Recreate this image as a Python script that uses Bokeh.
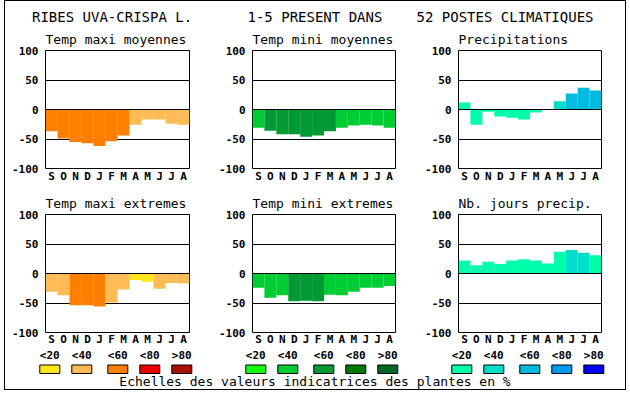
from bokeh.plotting import figure
from bokeh.models import Range1d, FixedTicker, Span, ColumnDataSource, Spacer
from bokeh.layouts import column, row
from bokeh.embed import file_html
from bokeh.resources import INLINE
from bokeh.core.properties import value

# ---------------- data ----------------
months = ["S", "O", "N", "D", "J", "F", "M", "A", "M", "J", "J", "A"]
class_labels = ["<20", "<40", "<60", "<80", ">80"]

main_title_parts = ["RIBES UVA-CRISPA L.", "1-5 PRESENT DANS", "52 POSTES CLIMATIQUES"]
footer_text = "Echelles des valeurs indicatrices des plantes en %"

titles = ["Temp maxi moyennes", "Temp mini moyennes", "Precipitations",
          "Temp maxi extremes", "Temp mini extremes", "Nb. jours precip."]

tmax_moy = [-37, -49, -55, -57, -62, -54, -44, -26, -17, -17, -24, -26]
tmax_moy_cls = [2, 2, 2, 2, 2, 2, 2, 1, 1, 1, 1, 1]

tmin_moy = [-31, -36, -42, -42, -46, -44, -37, -31, -27, -26, -27, -31]
tmin_moy_cls = [1, 2, 2, 2, 2, 2, 2, 1, 1, 1, 1, 1]

precip = [12, -26, -4, -12, -14, -17, -5, 0, 14, 27, 37, 32]
precip_cls = [0, 0, 0, 0, 0, 0, 0, 0, 1, 2, 2, 2]

tmax_ext = [-31, -37, -54, -54, -56, -49, -27, -11, -14, -26, -16, -17]
tmax_ext_cls = [1, 1, 2, 2, 2, 1, 1, 0, 0, 1, 1, 1]

tmin_ext = [-24, -41, -37, -47, -46, -47, -36, -37, -31, -24, -24, -21]
tmin_ext_cls = [1, 1, 1, 2, 2, 2, 1, 1, 1, 1, 1, 1]

nb_jours = [22, 14, 20, 16, 22, 24, 22, 17, 37, 40, 35, 31]
nb_jours_cls = [0, 0, 0, 0, 0, 0, 0, 0, 0, 1, 1, 0]

y_ticks = [-100, -50, 0, 50, 100]
y_tick_labels = ["-100", "-50", "0", "50", "100"]

pal_tmax = ["#FFE619", "#FFBB55", "#FF8000", "#EE0000", "#AA1100"]
pal_tmin = ["#11FF11", "#00CC33", "#009933", "#007700", "#006622"]
pal_prec = ["#00FFAA", "#00DDCC", "#00BBDD", "#0099EE", "#0000FF"]

# ---------------- style ----------------
FONT = "DejaVu Sans Mono"
INNER_W = 620
COL_W = [211, 206, 203]
COL_LEFT = [40, 35, 35]
COL_RIGHT = [27, 27, 24]


def panel(title, vals, cls, pal, ci, h, top, bottom, standoff):
    p = figure(width=COL_W[ci], height=h,
               x_range=Range1d(-0.5, 11.5), y_range=Range1d(-100, 100),
               output_backend="svg", toolbar_location=None,
               min_border_left=COL_LEFT[ci], min_border_right=COL_RIGHT[ci],
               min_border_top=top, min_border_bottom=bottom)
    p.background_fill_color = "white"
    p.border_fill_color = "white"
    p.title.text = title
    p.title.align = "left"
    p.title.text_font = FONT
    p.title.text_font_size = "13px"
    p.title.text_font_style = "normal"
    p.title.text_color = "black"
    p.title.standoff = 7
    src = ColumnDataSource(dict(x=list(range(len(vals))), top=vals,
                                color=[pal[c] for c in cls]))
    p.vbar(x="x", top="top", bottom=0, width=1, fill_color="color",
           line_color=None, source=src)
    p.add_layout(Span(location=0, dimension="width", line_color="black",
                      line_width=1))
    p.xgrid.visible = False
    p.ygrid.ticker = FixedTicker(ticks=[-50, 0, 50])
    p.ygrid.grid_line_color = "black"
    p.ygrid.grid_line_alpha = 1
    p.ygrid.grid_line_width = 1
    p.outline_line_color = "black"
    p.outline_line_alpha = 1
    p.outline_line_width = 1

    xa = p.xaxis[0]
    xa.ticker = FixedTicker(ticks=list(range(12)))
    xa.major_label_overrides = {i: m for i, m in enumerate(months)}
    xa.major_tick_out = 0
    xa.major_tick_in = 0
    xa.minor_tick_out = 0
    xa.minor_tick_in = 0
    xa.axis_line_color = None
    xa.major_label_standoff = standoff
    xa.major_label_text_font = FONT
    xa.major_label_text_font_size = "11px"
    xa.major_label_text_font_style = "bold"
    xa.major_label_text_color = "black"

    ya = p.yaxis[0]
    ya.ticker = FixedTicker(ticks=y_ticks)
    ya.major_label_overrides = {t: l for t, l in zip(y_ticks, y_tick_labels)}
    ya.major_tick_out = 0
    ya.major_tick_in = 0
    ya.minor_tick_out = 0
    ya.minor_tick_in = 0
    ya.axis_line_color = None
    ya.major_label_standoff = 7
    ya.major_label_text_font = FONT
    ya.major_label_text_font_size = "11px"
    ya.major_label_text_font_style = "bold"
    ya.major_label_text_color = "black"
    return p


def blank(w, h):
    p = figure(width=w, height=h, x_range=Range1d(0, w), y_range=Range1d(h, 0),
               output_backend="svg", toolbar_location=None, title=None,
               x_axis_type=None, y_axis_type=None, min_border=0)
    p.xgrid.visible = False
    p.ygrid.visible = False
    p.outline_line_color = None
    p.background_fill_color = "white"
    p.border_fill_color = "white"
    return p


# ---------------- title ----------------
TITLE_H = 24
tfig = blank(INNER_W, TITLE_H)
tsrc = ColumnDataSource(dict(x=[26.5, 242, 411], text=main_title_parts))
tfig.text(x="x", y=15.8, text="text", source=tsrc, text_font=value(FONT),
          text_font_size="14px", text_baseline="middle",
          text_align="left", text_color="black")

# ---------------- panels ----------------
top_specs = [(tmax_moy, tmax_moy_cls, pal_tmax), (tmin_moy, tmin_moy_cls, pal_tmin),
             (precip, precip_cls, pal_prec)]
bot_specs = [(tmax_ext, tmax_ext_cls, pal_tmax), (tmin_ext, tmin_ext_cls, pal_tmin),
             (nb_jours, nb_jours_cls, pal_prec)]

top_row = [panel(titles[i], v, c, pal, i, 160, 25, 15, 1)
           for i, (v, c, pal) in enumerate(top_specs)]
bot_row = [panel(titles[3 + i], v, c, pal, i, 163, 29, 14, 0)
           for i, (v, c, pal) in enumerate(bot_specs)]

# ---------------- legend ----------------
LEG_H = 41
lfig = blank(INNER_W, LEG_H)
box_offsets = [0, 32, 68, 100, 132]
group_step = 206
first_left = 34.3
palettes = [pal_tmax, pal_tmin, pal_prec]
lefts, colors, labels, centers = [], [], [], []
for g, pal in enumerate(palettes):
    for i, lab in enumerate(class_labels):
        l = first_left + g * group_step + box_offsets[i]
        lefts.append(l)
        centers.append(l + 10)
        colors.append(pal[i])
        labels.append(lab)
lsrc = ColumnDataSource(dict(left=lefts, right=[l + 20 for l in lefts],
                             cx=centers, color=colors, label=labels))
lfig.quad(left="left", right="right", top=16.5, bottom=25, fill_color="color",
          line_color="black", line_width=1, source=lsrc)
lfig.text(x="cx", y=6.6, text="label", source=lsrc, text_font=value(FONT),
          text_font_size="11px", text_font_style="bold", text_align="center",
          text_baseline="middle", text_color="black")
fsrc = ColumnDataSource(dict(x=[309.5], text=[footer_text]))
lfig.text(x="x", y=33, text="text", source=fsrc, text_font=value(FONT),
          text_font_size="13px", text_align="center",
          text_baseline="middle", text_color="black")

framed = column(tfig, row(*top_row), row(*bot_row), lfig,
                styles={"border": "1px solid black"})
layout = row(Spacer(width=4, height=10), framed)

open("out.html", "w").write(file_html(layout, INLINE))
